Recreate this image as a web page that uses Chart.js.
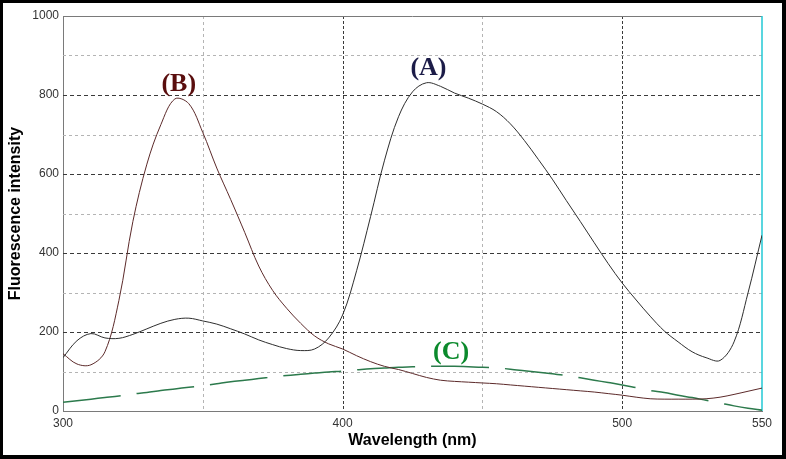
<!DOCTYPE html>
<html>
<head>
<meta charset="utf-8">
<script src="https://cdn.jsdelivr.net/npm/chart.js@4.4.1/dist/chart.umd.min.js"></script>
<style>
  html, body { margin: 0; padding: 0; background: #fff; }
  canvas { display: block; }
</style>
</head>
<body>
<canvas id="myChart" width="786" height="459"></canvas>
<script>
// wavelength grid (nm)
const wavelengths = [300,305,310,315,320,325,330,335,340,345,350,355,360,365,370,375,380,385,390,395,
  400,405,410,415,420,425,430,435,440,445,450,455,460,465,470,475,480,485,490,495,
  500,505,510,515,520,525,530,535,540,545,550];

// (A) emission curve
const seriesA = [135,178,196,185,184,194,208,222,232,235,228,220,208,195,180,168,158,153,157,185,
  243,355,492,635,745,808,831,822,805,792,777,758,727,685,637,587,533,480,426,373,
  324,281,240,203,175,150,135,128,175,299,445];

// (B) emission curve
const seriesB = [145,119,117,150,280,480,625,725,790,778,705,615,535,452,367,305,260,222,190,170,
  157,140,125,113,105,95,85,78,75,73,71,69,66,63,60,57,54,51,48,44,
  40,35,31,30,30,30,31,35,42,50,58];

// (C) dashed curve
const seriesC = [22,26,30,34,38,43,47,52,56,60,64,69,74,78,82,86,90,93,96,99,
  101,104,107,109,111,112,113,113,113,112,111,109,106,102,98,94,90,84,78,72,
  66,59,52,47,40,34,27,20,13,7,2];

const xTicks = [300,350,400,450,500,550];
const xTickLabels = ['300','','400','','500','550'];

// curve labels: text, wavelength, intensity, colour
const curveLabels = [
  { text: '(A)', x: 430.7, y: 868, color: '#1c1c48' },
  { text: '(B)', x: 341.4, y: 828, color: '#5a0e0e' },
  { text: '(C)', x: 438.8, y: 148, color: '#0b8a2c' }
];

function dashedLine(c, x1, y1, x2, y2, color, dash) {
  c.strokeStyle = color;
  c.setLineDash(dash);
  c.beginPath();
  c.moveTo(x1, y1);
  c.lineTo(x2, y2);
  c.stroke();
}

const frame = {
  id: 'frame',
  beforeDraw(chart) {
    const c = chart.ctx;
    c.save();
    c.fillStyle = '#000';
    c.fillRect(0, 0, chart.width, chart.height);
    c.fillStyle = '#fff';
    c.fillRect(3, 3, chart.width - 7, chart.height - 7);
    c.restore();
  },
  beforeDatasetsDraw(chart) {
    const c = chart.ctx, a = chart.chartArea, xs = chart.scales.x, ys = chart.scales.y;
    c.save();
    c.lineWidth = 1;
    // horizontal grid
    ys.ticks.forEach(t => {
      if (t.value <= 0 || t.value >= 1000) return;
      const y = Math.round(ys.getPixelForValue(t.value)) + 0.5;
      const major = t.value % 200 === 0;
      dashedLine(c, a.left, y, a.right, y, major ? '#3a3a3a' : '#b4b4b4', major ? [4, 3] : [3, 3]);
    });
    // vertical grid
    xs.ticks.forEach(t => {
      if (t.value <= 300 || t.value >= 550) return;
      const x = Math.round(xs.getPixelForValue(t.value)) + 0.5;
      const major = t.value % 100 === 0;
      dashedLine(c, x, a.top, x, a.bottom, major ? '#3a3a3a' : '#b4b4b4', major ? [3, 2] : [3, 3]);
    });
    c.setLineDash([]);
    c.strokeStyle = '#7a7a7a';
    c.beginPath();
    c.moveTo(a.left, a.top + 0.5);
    c.lineTo(a.right, a.top + 0.5);
    c.stroke();
    c.strokeStyle = '#22c8d4';
    c.lineWidth = 1.5;
    c.beginPath();
    c.moveTo(a.right, a.top);
    c.lineTo(a.right, a.bottom);
    c.stroke();
    c.restore();
  },
  afterDatasetsDraw(chart) {
    const c = chart.ctx, xs = chart.scales.x, ys = chart.scales.y;
    c.save();
    c.font = 'bold 26px "Liberation Serif", "Times New Roman", serif';
    c.textAlign = 'center';
    c.textBaseline = 'middle';
    curveLabels.forEach(l => {
      c.fillStyle = l.color;
      c.fillText(l.text, xs.getPixelForValue(l.x), ys.getPixelForValue(l.y));
    });
    c.restore();
  }
};

const toPts = vals => wavelengths.map((w, i) => ({ x: w, y: vals[i] }));

new Chart(document.getElementById('myChart'), {
  type: 'line',
  data: {
    datasets: [
      { label: 'A', data: toPts(seriesA), borderColor: '#2e2e2e', borderWidth: 1,
        pointRadius: 0, tension: 0.35, fill: false },
      { label: 'B', data: toPts(seriesB), borderColor: '#5c2a2a', borderWidth: 1,
        pointRadius: 0, tension: 0.35, fill: false },
      { label: 'C', data: toPts(seriesC), borderColor: '#2c7a4c', borderWidth: 1.5,
        borderDash: [58, 16], pointRadius: 0, tension: 0.35, fill: false }
    ]
  },
  options: {
    responsive: false,
    animation: false,
    layout: { padding: { top: 16, right: 24, left: 0, bottom: 0 } },
    plugins: { legend: { display: false }, tooltip: { enabled: false } },
    scales: {
      x: {
        type: 'linear',
        min: 300, max: 550,
        afterBuildTicks: s => { s.ticks = xTicks.map(v => ({ value: v })); },
        afterFit: s => { s.height = 48; },
        ticks: {
          autoSkip: false, maxRotation: 0, padding: 5,
          color: '#333', font: { family: 'Arial, "Liberation Sans", sans-serif', size: 12 },
          callback: v => xTickLabels[xTicks.indexOf(v)]
        },
        grid: { display: false, drawTicks: false },
        border: { color: '#7a7a7a', width: 1 },
        title: {
          display: true, text: 'Wavelength (nm)', color: '#000',
          font: { family: 'Arial, "Liberation Sans", sans-serif', size: 16, weight: 'bold' },
          padding: { top: 0, bottom: 9 }
        }
      },
      y: {
        min: 0, max: 1000,
        afterFit: s => { s.width = 63; },
        ticks: {
          stepSize: 100, padding: 4,
          color: '#333', font: { family: 'Arial, "Liberation Sans", sans-serif', size: 12 },
          callback: v => (v % 200 === 0 ? String(v) : '')
        },
        grid: { display: false, drawTicks: false },
        border: { color: '#7a7a7a', width: 1 },
        title: {
          display: true, text: 'Fluorescence intensity', color: '#000',
          font: { family: 'Arial, "Liberation Sans", sans-serif', size: 16, weight: 'bold' },
          padding: { top: 6, bottom: 0 }
        }
      }
    }
  },
  plugins: [frame]
});
</script>
</body>
</html>
